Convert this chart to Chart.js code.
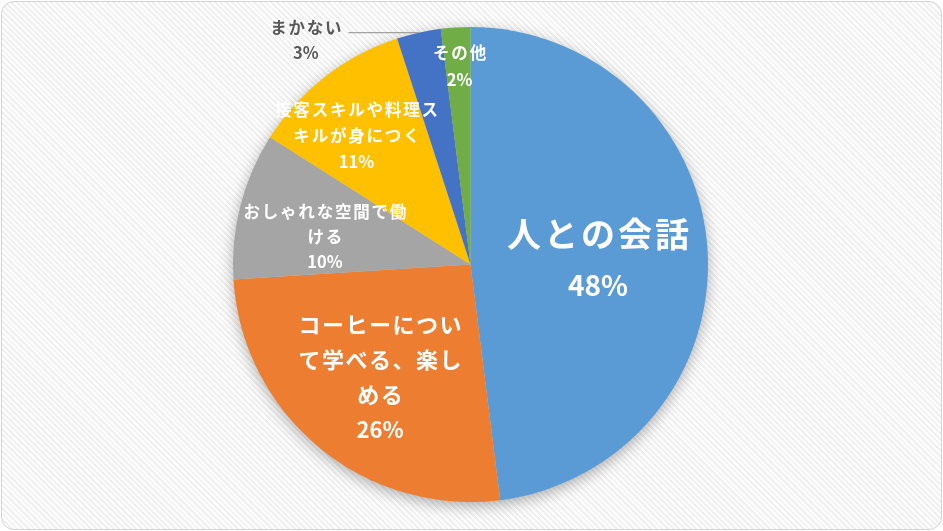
<!DOCTYPE html>
<html lang="ja">
<head>
<meta charset="utf-8">
<title>理由</title>
<script src="https://cdn.jsdelivr.net/npm/chart.js@4.4.1/dist/chart.umd.min.js"></script>
<style>
    html, body {
        margin: 0;
        padding: 0;
        width: 943px;
        height: 531px;
        overflow: hidden;
        background: #ffffff;
    }
    #card {
        position: absolute;
        left: 1px;
        top: 1px;
        width: 939px;
        height: 527px;
        border: 1px solid #d4d4d4;
        border-radius: 13px;
        background: repeating-linear-gradient(45deg, #ffffff 0px, #ffffff 2px, #f0f0f0 2px, #f0f0f0 4px);
    }
    #wrap {
        position: absolute;
        left: 0;
        top: 0;
        width: 943px;
        height: 531px;
    }
</style>
</head>
<body>
<div id="card"></div>
<div id="wrap"><canvas id="pieChart"></canvas></div>
<script>
// data, clockwise from 12 o'clock
const categories = ['人との会話', 'コーヒーについて学べる、楽しめる', 'おしゃれな空間で働ける', '接客スキルや料理スキルが身につく', 'まかない', 'その他'];
const shares = [48, 26, 10, 11, 3, 2];
// label text as wrapped in the picture
const labelLines = [
    ['人との会話'],
    ['コーヒーについ', 'て学べる、楽し', 'める'],
    ['おしゃれな空間で働', 'ける'],
    ['接客スキルや料理ス', 'キルが身につく'],
    ['まかない'],
    ['その他']
];

const sliceColors = ['#5b9bd5', '#ed7d31', '#a5a5a5', '#ffc000', '#4472c4', '#70ad47'];

// where each label sits, in fractions of the radius from the pie centre (first line centre)
const labelPlacement = [
    { dx: 0.537, dy: -0.128, size: 34, pctSize: 28, gap: 51, spacing: 3, color: '#ffffff' },
    { dx: -0.381, dy: 0.255, size: 22, pctSize: 22, gap: 35, spacing: 1.5, color: '#ffffff' },
    { dx: -0.613, dy: -0.221, size: 16.5, pctSize: 16.5, gap: 25, spacing: 1.8, color: '#ffffff' },
    { dx: -0.480, dy: -0.653, size: 16.5, pctSize: 16.5, gap: 26, spacing: 1.8, color: '#ffffff' },
    { dx: -0.693, dy: -0.995, size: 16.5, pctSize: 16.5, gap: 25, spacing: 1.8, color: '#595959', leader: true },
    { dx: -0.046, dy: -0.891, size: 16.5, pctSize: 16.5, gap: 27, spacing: 1.8, color: '#ffffff' }
];

const FONT = "'Noto Sans CJK JP', 'Noto Sans', sans-serif";

// soft shadow under the whole pie
const pieShadow = {
    id: 'pieShadow',
    beforeDatasetsDraw(chart) {
        const arc = chart.getDatasetMeta(0).data[0];
        if (!arc) return;
        const ctx = chart.ctx;
        ctx.save();
        ctx.shadowColor = 'rgba(0, 0, 0, 0.35)';
        ctx.shadowBlur = 16;
        ctx.shadowOffsetY = 4;
        ctx.fillStyle = '#cccccc';
        ctx.beginPath();
        ctx.arc(arc.x, arc.y, arc.outerRadius - 1, 0, Math.PI * 2);
        ctx.fill();
        ctx.restore();
    }
};

const sliceLabels = {
    id: 'sliceLabels',
    afterDatasetsDraw(chart) {
        const ctx = chart.ctx;
        const arcs = chart.getDatasetMeta(0).data;
        arcs.forEach((arc, i) => {
            const p = labelPlacement[i];
            const r = arc.outerRadius;
            const x = arc.x + p.dx * r;
            let y = arc.y + p.dy * r;
            ctx.save();
            ctx.fillStyle = p.color;
            ctx.textAlign = 'center';
            ctx.textBaseline = 'middle';
            ctx.letterSpacing = p.spacing + 'px';
            ctx.font = `bold ${p.size}px ${FONT}`;
            let widest = 0;
            labelLines[i].forEach(line => {
                ctx.fillText(line, x + p.spacing / 2, y);
                widest = Math.max(widest, ctx.measureText(line).width);
                y += p.gap;
            });
            ctx.font = `bold ${p.pctSize}px ${FONT}`;
            ctx.letterSpacing = '0px';
            ctx.fillText(shares[i] + '%', x, y);

            if (p.leader) {
                const mid = (arc.startAngle + arc.endAngle) / 2;
                const ex = arc.x + Math.cos(mid) * r;
                const ey = arc.y + Math.sin(mid) * r;
                ctx.strokeStyle = '#8c8c8c';
                ctx.lineWidth = 1;
                ctx.beginPath();
                ctx.moveTo(x + widest / 2 + 6, ey);
                ctx.lineTo(ex, ey);
                ctx.stroke();
            }
            ctx.restore();
        });
    }
};

new Chart(document.getElementById('pieChart').getContext('2d'), {
    type: 'pie',
    data: {
        labels: categories,
        datasets: [{
            data: shares,
            backgroundColor: sliceColors,
            borderWidth: 0
        }]
    },
    options: {
        responsive: true,
        maintainAspectRatio: false,
        animation: false,
        layout: {
            padding: { top: 27, bottom: 29, left: 0, right: 2 }
        },
        plugins: {
            legend: { display: false },
            tooltip: { enabled: false }
        }
    },
    plugins: [pieShadow, sliceLabels]
});
</script>
</body>
</html>
